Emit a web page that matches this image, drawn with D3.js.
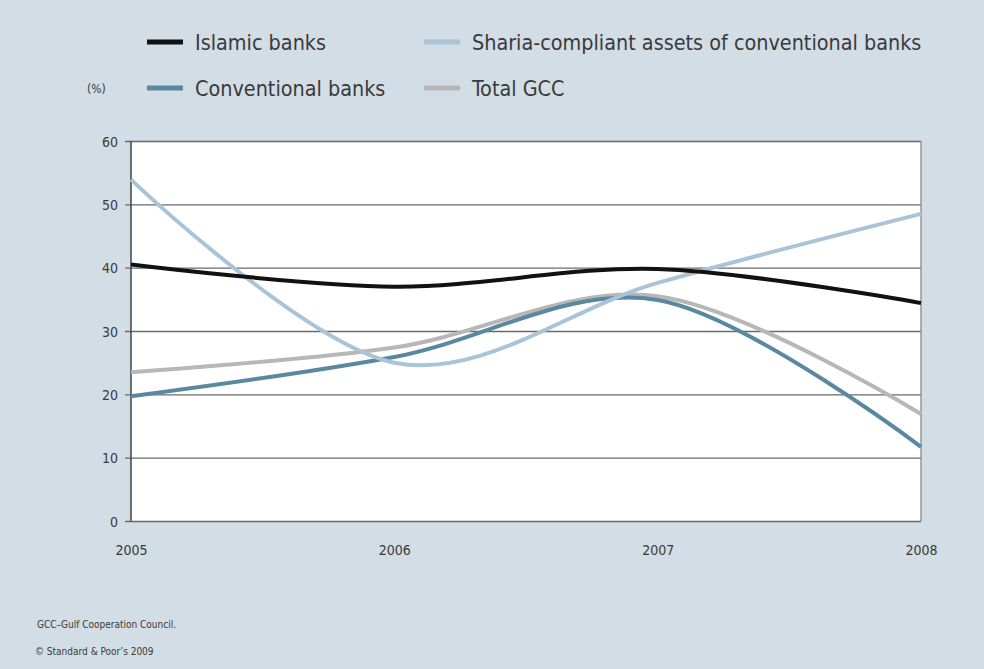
<!DOCTYPE html>
<html>
<head>
<meta charset="utf-8">
<script src="https://cdn.jsdelivr.net/npm/d3@7"></script>
<style>
  html, body { margin: 0; padding: 0; background: #d3dde5; }
  svg { display: block; }
  text { font-family: "Liberation Sans Narrow", "DejaVu Sans Condensed", "Roboto Condensed", sans-serif; fill: #3a3a3a; }
</style>
</head>
<body>
<svg id="chart" width="984" height="669"></svg>
<script>
const years = [2005, 2006, 2007, 2008];
const yTicks = [0, 10, 20, 30, 40, 50, 60];

const islamicBanks = [40.5, 37.0, 39.8, 34.4];
const shariaAssets = [53.9, 25.0, 37.6, 48.5];
const conventionalBanks = [19.7, 25.9, 34.9, 11.7];
const totalGCC = [23.5, 27.4, 35.5, 16.9];

const seriesNames = ['Islamic banks', 'Sharia-compliant assets of conventional banks', 'Conventional banks', 'Total GCC'];
const seriesColors = ['#111111', '#a9c4d7', '#5b88a1', '#b7b7b7'];

const series = [
  { name: seriesNames[0], color: seriesColors[0], values: islamicBanks },
  { name: seriesNames[1], color: seriesColors[1], values: shariaAssets },
  { name: seriesNames[2], color: seriesColors[2], values: conventionalBanks },
  { name: seriesNames[3], color: seriesColors[3], values: totalGCC }
];

const svg = d3.select('#chart');
const plot = { left: 131, right: 921, top: 141, bottom: 521 };

const x = d3.scaleLinear().domain([2005, 2008]).range([plot.left, plot.right]);
const y = d3.scaleLinear().domain([0, 60]).range([plot.bottom, plot.top]);

// plot background
svg.append('rect')
  .attr('x', plot.left).attr('y', plot.top)
  .attr('width', plot.right - plot.left).attr('height', plot.bottom - plot.top)
  .attr('fill', '#ffffff');

// y gridlines + ticks
const yAxis = d3.axisLeft(y).tickValues(yTicks)
  .tickSize(-(plot.right - plot.left + 6)).tickPadding(14);
const gy = svg.append('g')
  .attr('transform', 'translate(' + plot.left + ',0)')
  .call(yAxis);
gy.select('.domain').remove();
gy.selectAll('.tick line')
  .attr('x1', -6).attr('x2', plot.right - plot.left)
  .attr('stroke', '#6a6a6a').attr('stroke-width', 1.3);
gy.selectAll('.tick text')
  .attr('font-size', 14).attr('x', -13).attr('dy', '0.36em');

// x labels
const xAxis = d3.axisBottom(x).tickValues(years).tickFormat(d3.format('d')).tickSize(0).tickPadding(24);
const gx = svg.append('g')
  .attr('transform', 'translate(0,' + plot.bottom + ')')
  .call(xAxis);
gx.select('.domain').remove();
gx.selectAll('.tick text').attr('font-size', 14);

// frame verticals
svg.append('line')
  .attr('x1', plot.left).attr('x2', plot.left)
  .attr('y1', plot.top).attr('y2', plot.bottom)
  .attr('stroke', '#444').attr('stroke-width', 1.5);
svg.append('line')
  .attr('x1', plot.right).attr('x2', plot.right)
  .attr('y1', plot.top).attr('y2', plot.bottom)
  .attr('stroke', '#888').attr('stroke-width', 1.3);

// series lines
const line = d3.line()
  .x((d, i) => x(years[i]))
  .y(d => y(d))
  .curve(d3.curveCardinal.tension(0));

// draw order: grey and blue first, black on top of blues
const drawOrder = [3, 2, 1, 0];
svg.append('g').selectAll('path')
  .data(drawOrder.map(i => series[i]))
  .join('path')
  .attr('d', d => line(d.values))
  .attr('fill', 'none')
  .attr('stroke', d => d.color)
  .attr('stroke-width', 4);

// legend
const legendItems = [
  { s: series[0], lx: 147, ly: 42 },
  { s: series[1], lx: 424, ly: 42 },
  { s: series[2], lx: 147, ly: 88 },
  { s: series[3], lx: 424, ly: 88 }
];
const lg = svg.append('g').selectAll('g')
  .data(legendItems)
  .join('g')
  .attr('transform', d => 'translate(' + d.lx + ',' + d.ly + ')');
lg.append('line')
  .attr('x1', 0).attr('x2', 36)
  .attr('stroke', d => d.s.color).attr('stroke-width', 5);
lg.append('text')
  .attr('x', 48).attr('dy', '0.36em')
  .attr('font-size', 21.4)
  .text(d => d.s.name);

// unit label
svg.append('text')
  .attr('x', 87).attr('y', 93)
  .attr('font-size', 12)
  .text('(%)');

// footnotes
svg.append('text')
  .attr('x', 37).attr('y', 628)
  .attr('font-size', 10)
  .text('GCC–Gulf Cooperation Council.');
svg.append('text')
  .attr('x', 35).attr('y', 655)
  .attr('font-size', 10)
  .text('© Standard & Poor’s 2009');
</script>
</body>
</html>
